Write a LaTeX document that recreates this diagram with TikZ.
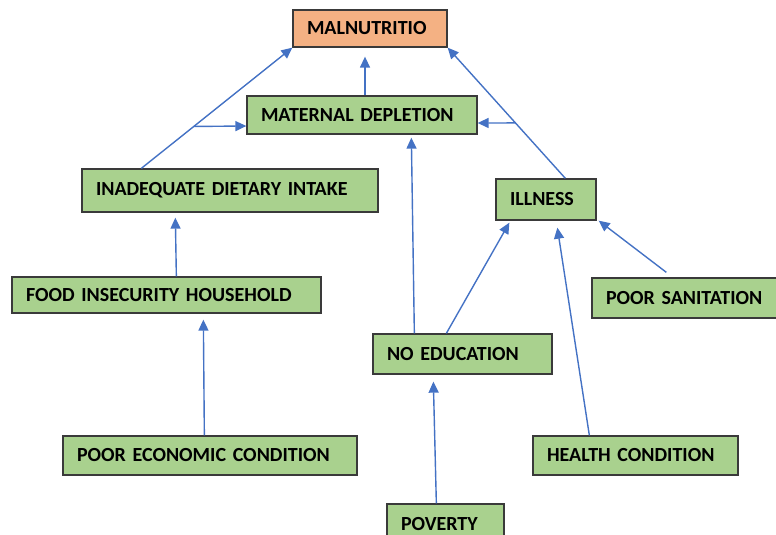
\documentclass[tikz,border=0pt]{standalone}
\usepackage{fontspec}
\setmainfont{Carlito}
\usetikzlibrary{arrows.meta,calc,positioning}

\definecolor{boxgreen}{HTML}{A9D18E}
\definecolor{boxorange}{HTML}{F4B183}
\definecolor{boxedge}{HTML}{3A3A3A}
\definecolor{linkblue}{HTML}{4472C4}

\tikzset{
  box/.style={draw=boxedge,line width=1.3pt,fill=boxgreen,inner xsep=14pt,inner ysep=0pt,
    align=left,font=\bfseries\fontsize{20}{22}\selectfont},
  link/.style={draw=linkblue,line width=1.4pt,-{Triangle[length=11pt,width=10pt]}}
}

\begin{document}
\begin{tikzpicture}[x=1pt,y=-1pt]
    \clip (0,0) rectangle (776,535);
    % Kasserne, fra toppen og ned
    \node[box,fill=boxorange,text width=126pt,minimum height=37pt] (mal) at (370,28.5) {MALNUTRITIO};
    \node[box,text width=202pt,minimum height=38pt] (mat) at (362,115) {MATERNAL DEPLETION};
    \node[box,text width=268pt,minimum height=43pt] (inad) at (230,190.5) {INADEQUATE DIETARY INTAKE};
    \node[box,text width=72pt,minimum height=41pt] (ill) at (546,199.5) {ILLNESS};
    \node[box,text width=281pt,minimum height=36pt] (food) at (166.5,295) {FOOD INSECURITY HOUSEHOLD};
    \node[box,text width=162pt,minimum height=40pt] (san) at (687,298) {POOR SANITATION};
    \node[box,text width=151pt,minimum height=40pt] (edu) at (462.5,354) {NO EDUCATION};
    \node[box,text width=266pt,minimum height=39pt] (econ) at (210,455.5) {POOR ECONOMIC CONDITION};
    \node[box,text width=177pt,minimum height=39pt] (health) at (635.5,455.5) {HEALTH CONDITION};
    \node[box,text width=89pt,minimum height=40pt] (pov) at (445.5,524) {POVERTY};
    % Pile mod MALNUTRITIO, med forgreninger ind i MATERNAL DEPLETION
    \draw[link] ([xshift=3pt]mat.north) -- ([xshift=-5pt,yshift=-9pt]mal.south);
    \coordinate (inadtop) at ([xshift=60pt]inad.north west);
    \coordinate (illtop) at ([xshift=70pt]ill.north west);
    \draw[link] (inadtop) -- (mal.south west);
    \draw[link] (illtop) -- (mal.south east);
    \coordinate (bl) at ($(inadtop)!0.347!(mal.south west)$);
    \coordinate (br) at ($(illtop)!0.424!(mal.south east)$);
    \draw[link] (bl) -- ([yshift=-11pt]mat.west);
    \draw[link] (br) -- ([yshift=-8pt]mat.east);
    % NO EDUCATION fører op til to kasser
    \draw[link] ([xshift=42pt]edu.north west) -- ([xshift=165pt,yshift=-3pt]mat.south west);
    \draw[link] ([xshift=74pt]edu.north west) -- ([xshift=14pt,yshift=-2pt]ill.south west);
    % Resten af årsagerne til ILLNESS
    \draw[link] ([xshift=57pt]health.north west) -- ([xshift=62pt,yshift=-7pt]ill.south west);
    \draw[link] ([xshift=75pt,yshift=5pt]san.north west) -- ([xshift=2pt]ill.south east);
    % Venstre gren
    \draw[link] ([xshift=165pt]food.north west) -- ([xshift=94pt,yshift=-5pt]inad.south west);
    \draw[link] ([xshift=142pt]econ.north west) -- ([xshift=192pt,yshift=-6pt]food.south west);
    \draw[link] ([xshift=50pt]pov.north west) -- ([xshift=61pt,yshift=-7pt]edu.south west);
\end{tikzpicture}
\end{document}
